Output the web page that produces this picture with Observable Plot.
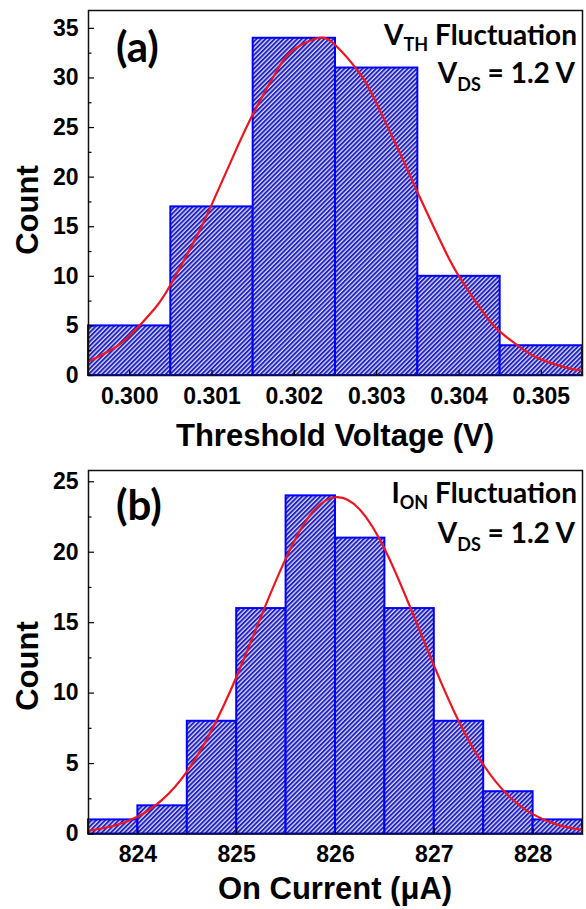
<!DOCTYPE html>
<html><head><meta charset="utf-8">
<script src="https://cdn.jsdelivr.net/npm/d3@7"></script>
<script src="https://cdn.jsdelivr.net/npm/@observablehq/plot@0.6"></script>
<style>
html,body{margin:0;padding:0;background:#fff;overflow:hidden}
svg{display:block}
</style></head><body>
<svg width="0" height="0" style="position:absolute">
<defs>
<pattern id="hatch" patternUnits="userSpaceOnUse" width="3.2" height="3.2" patternTransform="rotate(45)">
<rect width="3.2" height="3.2" fill="#dcdcf6"/>
<rect width="1.9" height="3.2" fill="#2222c2"/>
</pattern></defs></svg>
<div id="chart"></div>
<script>
// ---- Panel (a): threshold voltage histogram ----
const vthEdges = [0.2995, 0.3005, 0.3015, 0.3025, 0.3035, 0.3045, 0.3055];
const vthCounts = [5, 17, 34, 31, 10, 3];
const vthTicks = [0.300, 0.301, 0.302, 0.303, 0.304, 0.305];
const vthTickLabels = ["0.300", "0.301", "0.302", "0.303", "0.304", "0.305"];
const vthYTicks = [0, 5, 10, 15, 20, 25, 30, 35];
const vthYMinor = [2.5, 7.5, 12.5, 17.5, 22.5, 27.5, 32.5];
const vthFitX = [0.2995,0.2998,0.3000,0.3003,0.3005,0.3008,0.3010,0.3013,0.3015,0.3018,0.3020,0.30228,0.3025,0.3028,0.3030,0.3033,0.3035,0.3038,0.3040,0.3043,0.3045,0.3048,0.3050,0.3053,0.3055];
const vthFitY = [1.4,2.7,4.0,6.7,9.2,13.8,17.3,22.9,26.4,30.9,32.9,34.0,33.3,30.4,27.4,22.1,18.4,13.1,10.0,6.3,4.4,2.5,1.6,0.8,0.5];

// ---- Panel (b): on-current histogram ----
const ionEdges = [823.5, 824, 824.5, 825, 825.5, 826, 826.5, 827, 827.5, 828, 828.5];
const ionCounts = [1, 2, 8, 16, 24, 21, 16, 8, 3, 1];
const ionTicks = [824, 825, 826, 827, 828];
const ionTickLabels = ["824", "825", "826", "827", "828"];
const ionYTicks = [0, 5, 10, 15, 20, 25];
const ionYMinor = [2.5, 7.5, 12.5, 17.5, 22.5];
const ionFitX = [823.5,823.75,824,824.25,824.5,824.75,825,825.25,825.5,825.75,826,826.25,826.5,826.75,827,827.25,827.5,827.75,828,828.25,828.5];
const ionFitY = [0.24,0.57,1.24,2.46,4.47,7.42,11.2,15.5,19.6,22.7,23.9,23.0,20.2,16.2,11.9,7.97,4.88,2.72,1.39,0.65,0.28];

const TICKFONT = "'Liberation Sans', Arial, sans-serif";
const ANNOFONT = "Lato, 'Open Sans', sans-serif";

function panel(o) {
  const bins = o.counts.map((c, i) => ({x1: o.edges[i], x2: o.edges[i + 1], y1: 0, y2: c}));
  const fit = o.fitX.map((x, i) => ({x, y: o.fitY[i]}));
  const svg = Plot.plot({
    width: 586, height: o.height,
    marginLeft: 88, marginRight: 4, marginTop: o.marginTop, marginBottom: o.marginBottom,
    x: {domain: [o.edges[0], o.edges[o.edges.length - 1]]},
    y: {domain: [0, o.yMax]},
    style: {fontFamily: TICKFONT, fontWeight: "bold", color: "#000", background: "#fff", overflow: "visible"},
    marks: [
      Plot.rect(bins, {x1: "x1", x2: "x2", y1: "y1", y2: "y2", fill: "#3a3acc", stroke: "#0000ff", strokeWidth: 2}),
      Plot.line(fit, {x: "x", y: "y", stroke: "#f0141e", strokeWidth: 2.2, curve: "natural", clip: true}),
      Plot.frame({stroke: "#111", strokeWidth: 1.5}),
      Plot.axisY(o.yTicks, {tickSize: -6, tickPadding: 16, fontSize: 23, label: null, strokeWidth: 1.2}),
      Plot.axisY(o.yMinor, {tickSize: -3.5, text: null, label: null, strokeWidth: 1.2}),
      Plot.axisX(o.xTicks, {tickSize: -5, tickPadding: 17, fontSize: 23, label: null, strokeWidth: 1.2,
        tickFormat: (d) => o.xTickLabels[o.xTicks.indexOf(d)]})
    ]
  });
  const s = d3.select(svg);
  s.selectAll('g[aria-label="rect"]').attr("fill", "url(#hatch)");
  // axis titles
  s.append("text").attr("x", 335).attr("y", o.xTitleY).attr("text-anchor", "middle")
    .style("font", `bold 31px ${TICKFONT}`).attr("fill", "#000").text(o.xTitle);
  s.append("text").attr("transform", `translate(38,${o.yTitleY}) rotate(-90)`).attr("text-anchor", "middle")
    .style("font", `bold 31px ${TICKFONT}`).attr("fill", "#000").text("Count");
  // panel letter
  s.append("text").attr("x", 116).attr("y", o.letterY).attr("text-anchor", "start")
    .style("font", `bold 42px ${ANNOFONT}`).attr("fill", "#000").text(o.letter);
  // fluctuation label
  const t1 = s.append("text").attr("x", 577).attr("y", o.line1Y).attr("text-anchor", "end")
    .style("font", `bold 28px ${ANNOFONT}`).attr("fill", "#000");
  t1.append("tspan").text(o.main1);
  t1.append("tspan").attr("dy", 6).style("font-size", "18px").text(o.sub1);
  t1.append("tspan").attr("dy", -6).text(" Fluctuation");
  const t2 = s.append("text").attr("x", 575).attr("y", o.line2Y).attr("text-anchor", "end")
    .style("font", `bold 28px ${ANNOFONT}`).attr("fill", "#000");
  t2.append("tspan").text("V");
  t2.append("tspan").attr("dy", 8).style("font-size", "18px").text("DS");
  t2.append("tspan").attr("dy", -8).text(" = 1.2 V");
  return svg;
}

const chart = document.getElementById("chart");
chart.append(panel({
  edges: vthEdges, counts: vthCounts, fitX: vthFitX, fitY: vthFitY,
  xTicks: vthTicks, xTickLabels: vthTickLabels, yTicks: vthYTicks, yMinor: vthYMinor, yMax: 36.8,
  height: 458, marginTop: 10, marginBottom: 83,
  xTitle: "Threshold Voltage (V)", xTitleY: 446, yTitleY: 210,
  letter: "(a)", letterY: 62, main1: "V", sub1: "TH", line1Y: 45, line2Y: 83
}));
chart.append(panel({
  edges: ionEdges, counts: ionCounts, fitX: ionFitX, fitY: ionFitY,
  xTicks: ionTicks, xTickLabels: ionTickLabels, yTicks: ionYTicks, yMinor: ionYMinor, yMax: 25.8,
  height: 451, marginTop: 12, marginBottom: 75.5,
  xTitle: "On Current (\u03BCA)", xTitleY: 441, yTitleY: 208,
  letter: "(b)", letterY: 62, main1: "I", sub1: "ON", line1Y: 45, line2Y: 85
}));
</script>
</body></html>
